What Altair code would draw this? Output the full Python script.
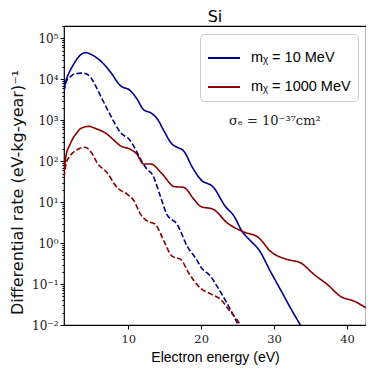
import altair as alt
import pandas as pd

# ---- data (energy in eV, rate in (eV-kg-year)^-1) ----
LBL10 = "mᵪ = 10 MeV"
LBL1000 = "mᵪ = 1000 MeV"

blue_solid_E = [1.2, 1.5, 2.0, 2.5, 3.0, 3.5, 4.2, 5.0, 6.2, 7.6, 8.9, 10.3, 11.2, 12.1, 13.1,
                14.0, 14.9, 16.0, 16.7, 17.6, 18.8, 19.9, 21.7, 23.3, 24.5, 25.6, 26.8,
                27.9, 29.5, 31.1, 32.3, 33.6, 34.0]
blue_solid_logR = [3.75, 3.98, 4.2, 4.36, 4.5, 4.6, 4.65, 4.6, 4.45, 4.17, 3.85, 3.72, 3.52, 3.26, 3.18,
                   3.03, 2.74, 2.42, 2.34, 2.25, 1.85, 1.56, 1.36, 0.9, 0.66, 0.29, 0.05,
                   -0.16, -0.69, -1.21, -1.6, -2.0, -2.12]

blue_dash_E = [1.2, 1.5, 2.0, 2.5, 3.0, 3.5, 4.1, 4.8, 5.5, 6.2, 7.6, 8.9, 10.3, 11.2, 11.7,
               12.6, 13.3, 14.4, 15.3, 16.7, 18.1, 19.5, 19.9, 21.3, 22.2, 23.8, 25.1, 25.4]
blue_dash_logR = [3.7, 3.95, 4.05, 4.12, 4.14, 4.15, 4.14, 4.06, 3.85, 3.6, 3.11, 2.71, 2.5, 2.22, 2.05,
                  1.8, 1.68, 1.15, 0.7, 0.46, -0.08, -0.44, -0.57, -0.81, -1.06, -1.55, -2.0, -2.1]

red_solid_E = [1.2, 1.5, 2.0, 2.5, 3.0, 3.5, 4.6, 5.5, 7.1, 8.0, 8.9, 10.3, 11.2, 12.1, 13.1,
               14.7, 16.3, 17.6, 19.0, 19.9, 21.7, 23.6, 25.6, 27.9, 29.5, 31.8, 33.6,
               35.5, 37.3, 39.1, 41.0, 42.6]
red_solid_logR = [1.75, 2.15, 2.4, 2.58, 2.7, 2.8, 2.85, 2.8, 2.66, 2.52, 2.38, 2.29, 2.17, 1.93, 1.93,
                  1.68, 1.38, 1.36, 1.07, 0.9, 0.82, 0.49, 0.29, 0.13, -0.2, -0.40, -0.48,
                  -0.77, -1.01, -1.30, -1.42, -1.58]

red_dash_E = [1.2, 1.5, 2.0, 3.0, 4.05, 5.0, 5.7, 7.1, 8.5, 9.9, 10.8, 11.7, 12.6, 13.7, 14.9,
              16.0, 17.2, 18.3, 19.9, 21.3, 22.7, 23.8, 25.2, 25.5]
red_dash_logR = [1.6, 1.95, 2.12, 2.28, 2.34, 2.2, 1.97, 1.72, 1.35, 1.19, 1.03, 0.70, 0.54, 0.46, 0.05,
                 -0.32, -0.40, -0.73, -1.1, -1.24, -1.38, -1.63, -1.95, -2.05]

y_major = [1e-2, 1e-1, 1e0, 1e1, 1e2, 1e3, 1e4, 1e5]
y_minor = [m * 10.0 ** k for k in range(-2, 6) for m in range(2, 10) if m * 10.0 ** k <= 2e5]
x_ticks = [10, 20, 30, 40]

rows = []
for E, L, mass, kind in [
    (blue_solid_E, blue_solid_logR, LBL10, "solid"),
    (blue_dash_E, blue_dash_logR, LBL10, "dashed"),
    (red_solid_E, red_solid_logR, LBL1000, "solid"),
    (red_dash_E, red_dash_logR, LBL1000, "dashed"),
]:
    for e, l in zip(E, L):
        rows.append({"E": e, "rate": 10.0 ** l, "mass": mass, "kind": kind})
df = pd.DataFrame(rows)

xscale = alt.Scale(domain=[1.2, 42.6], nice=False, zero=False)
yscale = alt.Scale(type="log", domain=[1e-2, 2e5], nice=False)

sup_expr = "'10' + ['⁻²','⁻¹','⁰','¹','²','³','⁴','⁵'][round(log(datum.value)/LN10)+2]"

lines = alt.Chart(df).mark_line(clip=True, strokeWidth=1.6, interpolate="monotone").encode(
    x=alt.X("E:Q", scale=xscale,
            axis=alt.Axis(values=x_ticks, title="Electron energy (eV)", grid=False,
                          labelFont="DejaVu Serif", labelFontSize=11.5, labelColor="#222",
                          tickSize=4, tickColor="black", domain=False, labelPadding=4,
                          titleFont="Liberation Sans", titleFontSize=14, titleFontWeight="normal",
                          titleColor="black", titleX=151, titleY=32, titleBaseline="middle")),
    y=alt.Y("rate:Q", scale=yscale,
            axis=alt.Axis(values=y_major, labelExpr=sup_expr, grid=False,
                          title="Differential rate (eV-kg-year)⁻¹",
                          labelFont="DejaVu Serif", labelFontSize=12, labelColor="#222",
                          tickSize=4, tickColor="black", domain=False, labelPadding=2,
                          titleFont="DejaVu Sans", titleFontSize=16, titleFontWeight="normal",
                          titleColor="#111", titleX=-47, titleY=166, titleAngle=-90,
                          titleAlign="center", titleBaseline="middle")),
    color=alt.Color("mass:N",
                    scale=alt.Scale(domain=[LBL10, LBL1000], range=["#00008B", "#8B0000"]),
                    legend=alt.Legend(title=None, orient="none", legendX=136, legendY=8,
                                      symbolType="stroke", symbolSize=1024, symbolStrokeWidth=2,
                                      labelFont="Liberation Sans", labelFontSize=14.5, labelColor="black",
                                      rowPadding=5, padding=7, cornerRadius=4,
                                      strokeColor="#cccccc", fillColor="white", labelOffset=10)),
    strokeDash=alt.StrokeDash("kind:N",
                              scale=alt.Scale(domain=["solid", "dashed"], range=[[1, 0], [5.5, 2.4]]),
                              legend=None),
    detail="kind:N",
)

minor = alt.Chart(pd.DataFrame({"E": [5.0], "rate": [1.0]})).mark_point(opacity=0).encode(
    x=alt.X("E:Q", scale=xscale),
    y=alt.Y("rate:Q", scale=yscale,
            axis=alt.Axis(orient="left", values=y_minor, labels=False, title=None, grid=False,
                          tickSize=2.2, tickColor="black", domain=False)),
)

note = alt.Chart(pd.DataFrame({"E": [30.1], "rate": [950.0], "t": ["σₑ = 10⁻³⁷cm²"]})).mark_text(
    font="DejaVu Serif", fontSize=13, color="#222", align="center", baseline="middle"
).encode(x=alt.X("E:Q", scale=xscale), y=alt.Y("rate:Q", scale=yscale, axis=None), text="t:N")

chart = alt.layer(lines, minor, note).resolve_axis(y="independent").properties(
    width=302, height=299,
    title=alt.TitleParams("Si", font="DejaVu Sans", fontSize=16, fontWeight="normal",
                          color="black", offset=1),
    autosize=alt.AutoSizeParams(type="none"),
    padding={"left": 56, "top": 18, "right": 0, "bottom": 41},
).configure_view(stroke="black", strokeWidth=1.2)

chart.save("out.html", embed_options={"renderer": "svg", "actions": False})
